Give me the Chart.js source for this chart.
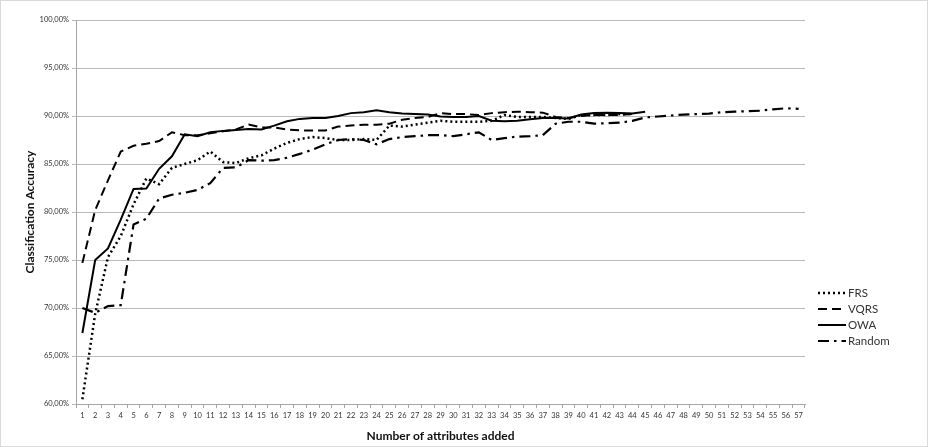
<!DOCTYPE html>
<html>
<head>
<meta charset="utf-8">
<script src="https://cdn.jsdelivr.net/npm/chart.js@4"></script>
<style>
  html, body { margin: 0; padding: 0; background: #fff; }
  #wrap { position: relative; width: 928px; height: 447px; }
  #frame { position: absolute; left: 0; top: 0; width: 928px; height: 447px; box-sizing: border-box; border: 1px solid #d9d9d9; pointer-events: none; }
  #legend { position: absolute; left: 818px; top: 285px; font-family: Lato, "Open Sans", sans-serif; font-size: 11.5px; color: #333; }
  .row { position: absolute; left: 0; height: 16px; width: 100px; white-space: nowrap; }
  .row svg { position: absolute; left: 0; top: 4px; }
  .row span { position: absolute; left: 30px; top: 0px; line-height: 16px; }
</style>
</head>
<body>
<div id="wrap">
  <canvas id="c"></canvas>
  <div id="legend"></div>
  <div id="frame"></div>
</div>
<script>
const categories = ["1","2","3","4","5","6","7","8","9","10","11","12","13","14","15","16","17","18","19","20","21","22","23","24","25","26","27","28","29","30","31","32","33","34","35","36","37","38","39","40","41","42","43","44","45","46","47","48","49","50","51","52","53","54","55","56","57"];

const frs = [60.5,69.4,75.3,77.5,80.8,83.5,82.9,84.6,85.0,85.4,86.3,85.2,85.1,85.6,85.9,86.6,87.2,87.6,87.8,87.7,87.5,87.5,87.6,87.5,89.0,88.9,89.1,89.3,89.5,89.4,89.4,89.4,89.5,90.1,89.9,89.9,89.9,89.8,89.7,90.1,90.1,90.1,90.2,90.2];

const vqrs = [74.7,80.2,83.3,86.3,86.9,87.1,87.4,88.3,88.0,88.0,88.2,88.4,88.6,89.1,88.8,88.8,88.6,88.5,88.5,88.5,88.9,89.0,89.1,89.1,89.2,89.6,89.8,89.9,90.3,90.2,90.2,90.1,90.3,90.4,90.45,90.4,90.35,89.9,89.8,90.0,90.1,90.1,90.1,90.2];

const owa = [67.4,75.0,76.2,79.2,82.4,82.45,84.5,85.8,88.1,87.9,88.3,88.45,88.55,88.65,88.6,89.0,89.45,89.7,89.8,89.8,90.0,90.3,90.4,90.6,90.4,90.25,90.2,90.15,89.95,89.9,89.9,90.0,89.5,89.45,89.5,89.65,89.8,89.8,89.75,90.15,90.3,90.35,90.3,90.25,90.45];

const random = [70.0,69.5,70.2,70.3,78.7,79.3,81.4,81.8,82.0,82.3,83.0,84.6,84.65,85.4,85.35,85.4,85.65,86.05,86.5,87.05,87.5,87.6,87.5,87.05,87.6,87.8,87.9,88.0,88.0,87.9,88.1,88.3,87.5,87.7,87.85,87.9,88.0,89.2,89.4,89.4,89.2,89.25,89.3,89.5,89.85,89.95,90.05,90.15,90.2,90.25,90.4,90.45,90.5,90.55,90.7,90.8,90.75];

const seriesNames = ["FRS", "VQRS", "OWA", "Random"];
const yTicks = [60, 65, 70, 75, 80, 85, 90, 95, 100];

const styles = [
  { dash: [2, 3], width: 2.5 },
  { dash: [9, 5], width: 2 },
  { dash: [], width: 2 },
  { dash: [11, 5, 2.5, 5], width: 2.2 }
];
const seriesData = [frs, vqrs, owa, random];

const FONT = 'Lato, "Open Sans", sans-serif';

const datasets = seriesNames.map((name, i) => ({
  label: name,
  data: seriesData[i],
  borderColor: '#000',
  backgroundColor: '#000',
  borderWidth: styles[i].width,
  borderDash: styles[i].dash,
  pointRadius: 0,
  pointHoverRadius: 0,
  tension: 0,
  fill: false
}));

new Chart(document.getElementById('c'), {
  type: 'line',
  data: { labels: categories, datasets },
  options: {
    responsive: true,
    maintainAspectRatio: false,
    animation: false,
    layout: { padding: { top: 20, right: 123, bottom: 0, left: 0 } },
    plugins: { legend: { display: false }, tooltip: { enabled: false } },
    scales: {
      x: {
        offset: true,
        grid: { display: true, drawOnChartArea: false, drawTicks: true, tickLength: 4, offset: true, color: '#a6a6a6' },
        border: { display: true, color: '#a6a6a6', width: 1 },
        ticks: { autoSkip: false, maxRotation: 0, minRotation: 0, padding: 3, color: '#333', font: { family: FONT, size: 7.5 } },
        title: { display: true, text: 'Number of attributes added', color: '#111', font: { family: FONT, size: 12, weight: 'bold' }, padding: { top: 0, bottom: 3.8 } },
        afterFit: (s) => { s.height = 43; }
      },
      y: {
        min: 60,
        max: 100,
        afterBuildTicks: (s) => { s.ticks = yTicks.map(v => ({ value: v })); },
        grid: { color: '#b8b8b8', lineWidth: 1, tickLength: 4, drawTicks: true },
        border: { display: true, color: '#a6a6a6', width: 1 },
        ticks: {
          padding: 3,
          color: '#333',
          font: { family: FONT, size: 7.5 },
          callback: (v) => Number(v).toFixed(2).replace('.', ',') + '%'
        },
        title: { display: true, text: 'Classification Accuracy', color: '#111', font: { family: FONT, size: 12, weight: 'bold' }, padding: { top: 22.8, bottom: 0 } },
        afterFit: (s) => { s.width = 76; }
      }
    }
  }
});

// HTML legend with line samples
const legend = document.getElementById('legend');
seriesNames.forEach((name, i) => {
  const row = document.createElement('div');
  row.className = 'row';
  row.style.top = (i * 16) + 'px';
  const svgNS = 'http://www.w3.org/2000/svg';
  const svg = document.createElementNS(svgNS, 'svg');
  svg.setAttribute('width', '28');
  svg.setAttribute('height', '8');
  const line = document.createElementNS(svgNS, 'line');
  line.setAttribute('x1', '0'); line.setAttribute('y1', '4');
  line.setAttribute('x2', '28'); line.setAttribute('y2', '4');
  line.setAttribute('stroke', '#000');
  line.setAttribute('stroke-width', String(styles[i].width));
  if (styles[i].dash.length) line.setAttribute('stroke-dasharray', styles[i].dash.join(' '));
  svg.appendChild(line);
  const span = document.createElement('span');
  span.textContent = name;
  row.appendChild(svg);
  row.appendChild(span);
  legend.appendChild(row);
});
</script>
</body>
</html>
